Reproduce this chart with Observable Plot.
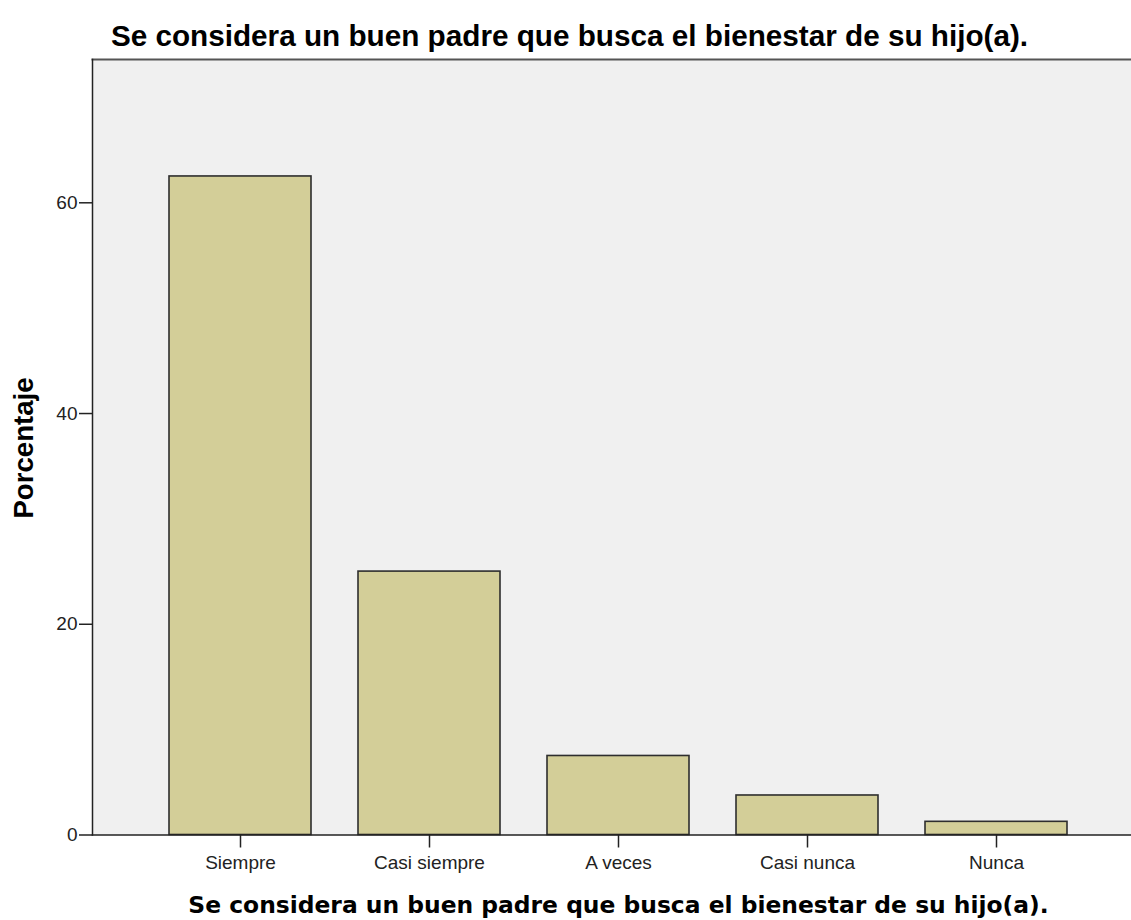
<!DOCTYPE html>
<html>
<head>
<meta charset="utf-8">
<script src="https://cdn.jsdelivr.net/npm/d3@7"></script>
<script src="https://cdn.jsdelivr.net/npm/@observablehq/plot@0.6"></script>
<style>
  html, body { margin: 0; padding: 0; background: #fff; }
  #chart svg { display: block; font-family: "Liberation Sans", Arial, sans-serif; }
</style>
</head>
<body>
<div id="chart"></div>
<script>
const categories = ["Siempre", "Casi siempre", "A veces", "Casi nunca", "Nunca"];
const percentages = [62.5, 25, 7.5, 3.75, 1.25];
const yTicks = [0, 20, 40, 60];
const titleText = "Se considera un buen padre que busca el bienestar de su hijo(a).";
const xLabel = "Se considera un buen padre que busca el bienestar de su hijo(a).";
const yLabel = "Porcentaje";

const data = categories.map((c, i) => ({category: c, value: percentages[i]}));

const chart = Plot.plot({
  width: 1131,
  height: 920,
  marginLeft: 92,
  marginRight: 0,
  marginTop: 59,
  marginBottom: 85.5,
  style: {background: "#ffffff", fontFamily: "Liberation Sans, Arial, sans-serif"},
  x: {domain: categories, range: [144.5, 1090.5], paddingInner: 0.25, paddingOuter: 0.125, align: 0.5, axis: null},
  y: {domain: [0, 73.6], axis: null},
  marks: [
    Plot.frame({fill: "#f0f0f0", stroke: null}),
    Plot.barY(data, {x: "category", y: "value", fill: "#d3ce98", stroke: "#2e2e2e", strokeWidth: 1.6}),
    Plot.frame({anchor: "top", stroke: "#555", strokeWidth: 2}),
    Plot.frame({anchor: "left", stroke: "#222", strokeWidth: 1.5}),
    Plot.frame({anchor: "bottom", stroke: "#222", strokeWidth: 1.5}),
    Plot.axisY({ticks: yTicks, tickSize: 13, tickPadding: 2, fontSize: 19, label: null, stroke: "#222", color: "#222", strokeWidth: 1.5}),
    Plot.axisX({tickSize: 13, tickPadding: 7, fontSize: 19, label: null, stroke: "#222", color: "#222", strokeWidth: 1.5}),
    Plot.text([titleText], {frameAnchor: "top", lineAnchor: "middle", textAnchor: "middle", dx: -42.5, dy: -23.5, fontSize: 29.7, fontWeight: "bold", fill: "#000"}),
    Plot.text([xLabel], {frameAnchor: "bottom", lineAnchor: "middle", textAnchor: "middle", dx: 6.5, dy: 70, fontSize: 23.4, fontWeight: "bold", fontFamily: "DejaVu Sans", fill: "#000"}),
    Plot.text([yLabel], {frameAnchor: "left", lineAnchor: "middle", textAnchor: "middle", dx: -68, dy: 0.75, rotate: -90, fontSize: 27.6, fontWeight: "bold", fill: "#000"})
  ]
});
document.getElementById("chart").appendChild(chart);
</script>
</body>
</html>
